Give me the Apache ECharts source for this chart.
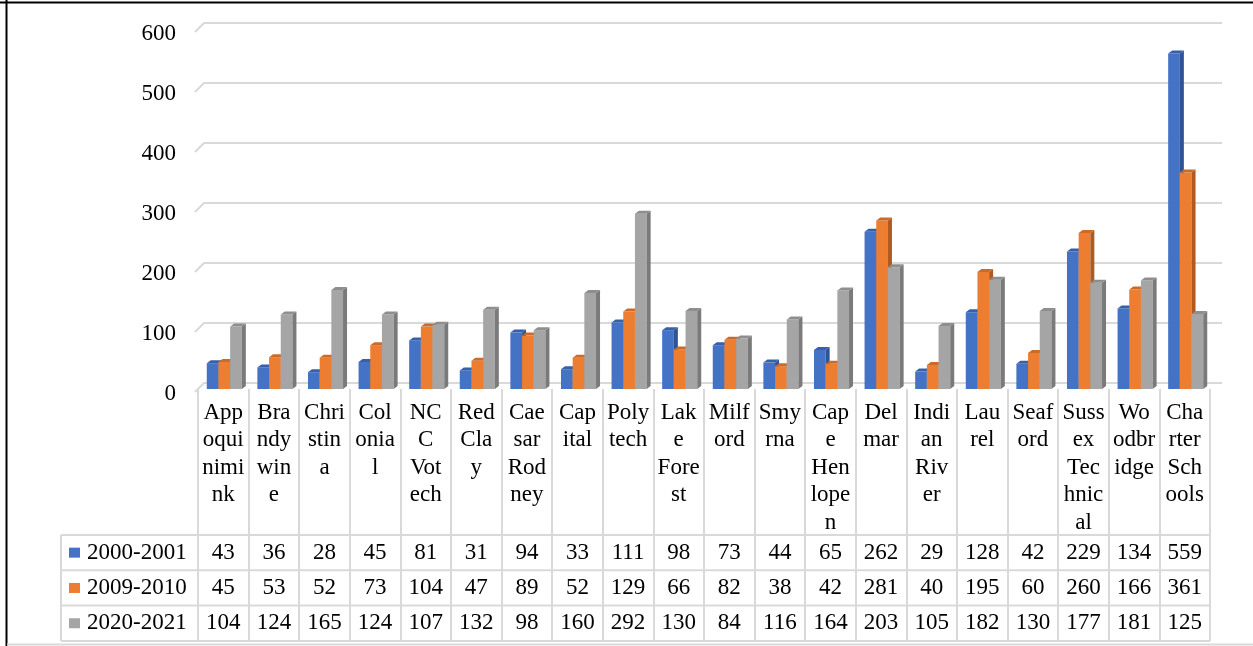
<!DOCTYPE html>
<html>
<head>
<meta charset="utf-8">
<script src="https://cdn.jsdelivr.net/npm/echarts@6/dist/echarts.min.js"></script>
<style>
  html, body { margin: 0; padding: 0; background: #fff; }
  #main { width: 1253px; height: 646px; }
</style>
</head>
<body>
<div id="main"></div>
<script>
const districts = ['Appoquinimink', 'Brandywine', 'Christina', 'Colonial', 'NCC Votech', 'Red Clay',
  'Caesar Rodney', 'Capital', 'Polytech', 'Lake Forest', 'Milford', 'Smyrna', 'Cape Henlopen',
  'Delmar', 'Indian River', 'Laurel', 'Seaford', 'Sussex Technical', 'Woodbridge', 'Charter Schools']
const seriesNames = ['2000-2001', '2009-2010', '2020-2021']
const enroll2000 = [43, 36, 28, 45, 81, 31, 94, 33, 111, 98, 73, 44, 65, 262, 29, 128, 42, 229, 134, 559]
const enroll2009 = [45, 53, 52, 73, 104, 47, 89, 52, 129, 66, 82, 38, 42, 281, 40, 195, 60, 260, 166, 361]
const enroll2020 = [104, 124, 165, 124, 107, 132, 98, 160, 292, 130, 84, 116, 164, 203, 105, 182, 130, 177, 181, 125]
const yTicks = [0, 100, 200, 300, 400, 500, 600]

const allValues = [enroll2000, enroll2009, enroll2020]
const colors = [
  { front: '#4472C4', side: '#2F5394', top: '#3660AC' },
  { front: '#ED7D31', side: '#AF5A21', top: '#CC6A28' },
  { front: '#A5A5A5', side: '#7A7A7A', top: '#8E8E8E' }
]
const FONT = '"Liberation Serif", "Times New Roman", serif'
const DX = 4, DY = 3 // depth of the 3d bars

// wrap like excel does inside a narrow column (no kerning)
let ctx = document.createElement('canvas').getContext('2d')
ctx.font = '23px ' + FONT
ctx.fontKerning = 'none'
function textW(s) {
  let w = 0
  for (let ch of s) w += ctx.measureText(ch).width
  return w
}
function wrapLabel(name, limit) {
  let lines = []
  let cur = ''
  name.split(' ').forEach(word => {
    let joined = cur ? cur + ' ' + word : word
    if (textW(joined) <= limit) { cur = joined; return }
    if (cur) lines.push(cur)
    cur = ''
    for (let ch of word) {
      if (cur && textW(cur + ch) > limit) {
        lines.push(cur)
        cur = ch
      } else {
        cur += ch
      }
    }
  })
  if (cur) lines.push(cur)
  return lines.join('\n')
}

function barRenderer(s) {
  return function (params, api) {
    let i = api.value(0)
    let base = api.coord([i, 0])
    let top = api.coord([i, api.value(1)])
    let band = api.size([1, 0])[0]
    let bw = band * 0.231
    let x0 = base[0] - bw * 1.5 + s * bw + 1
    let x1 = x0 + bw
    let y0 = top[1], yb = base[1]
    let c = colors[s]
    return {
      type: 'group',
      children: [
        { type: 'rect', shape: { x: x0, y: y0, width: bw, height: yb - y0 }, style: { fill: c.front } },
        { type: 'polygon', shape: { points: [[x1, y0], [x1 + DX, y0 - DY], [x1 + DX, yb - DY], [x1, yb]] }, style: { fill: c.side } },
        { type: 'polygon', shape: { points: [[x0, y0], [x0 + DX, y0 - DY], [x1 + DX, y0 - DY], [x1, y0]] }, style: { fill: c.top } }
      ]
    }
  }
}

let chart = echarts.init(document.getElementById('main'), null, { renderer: 'canvas' })

chart.setOption({
  animation: false,
  backgroundColor: '#fff',
  grid: { left: 198, right: 43, top: 29, bottom: 257, containLabel: false },
  xAxis: {
    type: 'category',
    data: districts,
    axisLine: { show: false },
    axisTick: { show: true, length: 252, lineStyle: { color: '#D9D9D9', width: 2 } },
    axisLabel: {
      interval: 0,
      margin: 10,
      color: '#000',
      fontFamily: FONT,
      fontSize: 23,
      lineHeight: 27.5,
      verticalAlign: 'top',
      formatter: name => wrapLabel(name, 42.6)
    }
  },
  yAxis: {
    type: 'value',
    min: 0,
    max: 600,
    interval: 100,
    axisLine: { show: false },
    axisTick: { show: false },
    splitLine: { show: false },
    axisLabel: {
      margin: 22, color: '#000', fontFamily: FONT, fontSize: 23,
      verticalAlign: 'top', lineHeight: 10
    }
  },
  series: allValues.map((vals, s) => ({
    type: 'custom',
    name: seriesNames[s],
    renderItem: barRenderer(s),
    encode: { x: 0, y: 1 },
    z: 3,
    data: vals.map((v, i) => [i, v])
  }))
})

// back-wall gridlines, data table and frame, placed from the axes
let graphics = []
let line = (x1, y1, x2, y2, stroke, w) => ({
  type: 'line', silent: true, z: 1,
  shape: { x1, y1, x2, y2 }, style: { stroke, lineWidth: w }
})

yTicks.forEach(t => {
  let y = chart.convertToPixel({ yAxisIndex: 0 }, t)
  graphics.push({
    type: 'polyline', silent: true, z: 0,
    shape: { points: [[195, y + 3], [204, y - 6], [1222, y - 6]] },
    style: { stroke: '#D9D9D9', lineWidth: 2, fill: null }
  })
})

let colX = districts.map((d, i) => chart.convertToPixel({ xAxisIndex: 0 }, i))
let tableLeft = 61, tableRight = colX[colX.length - 1] + (colX[1] - colX[0]) / 2
let rowTop = 535, rowH = 35.3
for (let r = 0; r <= 3; r++) {
  graphics.push(line(tableLeft, rowTop + r * rowH, tableRight, rowTop + r * rowH, '#D9D9D9', 2))
}
graphics.push(line(tableLeft, rowTop, tableLeft, rowTop + 3 * rowH, '#D9D9D9', 2))

allValues.forEach((vals, s) => {
  let cy = rowTop + s * rowH + rowH / 2
  graphics.push({
    type: 'rect', silent: true,
    shape: { x: 69, y: cy - 5, width: 11, height: 10 },
    style: { fill: colors[s].front }
  })
  graphics.push({
    type: 'text', silent: true,
    x: 87, y: cy,
    style: { text: seriesNames[s], font: '23px ' + FONT, fill: '#000', align: 'left', verticalAlign: 'middle' }
  })
  vals.forEach((v, i) => {
    graphics.push({
      type: 'text', silent: true,
      x: colX[i], y: cy,
      style: { text: String(v), font: '23px ' + FONT, fill: '#000', align: 'center', verticalAlign: 'middle' }
    })
  })
})

// frame
graphics.push(line(0, 2.5, 1253, 2.5, '#000', 2))
graphics.push(line(6.5, 0, 6.5, 646, '#000', 2))
graphics.push(line(7, 644.5, 1253, 644.5, '#D9D9D9', 2))

chart.setOption({ graphic: graphics })
</script>
</body>
</html>
